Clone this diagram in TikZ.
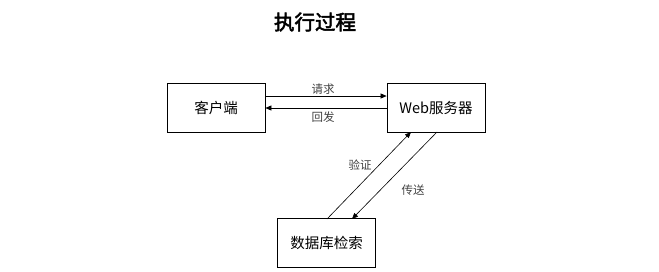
\documentclass[tikz,border=0pt]{standalone}
\usepackage{fontspec}
\newfontfamily\cjk{Noto Sans CJK SC}
\newfontfamily\cjkbold{Noto Sans CJK SC}[FakeBold=2.5]
\usetikzlibrary{arrows.meta}
\begin{document}
\begin{tikzpicture}[x=1pt,y=-1pt,
  box/.style={draw,line width=0.8pt,minimum width=98pt,minimum height=49pt,inner sep=0pt,font=\cjk\fontsize{14.5}{16}\selectfont},
  lbl/.style={font=\cjk\fontsize{11.5}{13}\selectfont,text=black!75},
  conn/.style={line width=0.6pt,-{Triangle[length=6pt,width=5pt]}}]
\useasboundingbox (0,0) rectangle (659,271);
\node[font=\cjkbold\fontsize{20.5}{22}\selectfont] (title) at (315,22) {执行过程};
\node[box] (client) at (216,107.5) {客户端};
\node[box] (web) at (436,107.5) {Web服务器};
\node[box] (db) at (326.5,243) {数据库检索};
\draw[conn] (client.east |- 0,96) -- (web.west |- 0,96);
\draw[conn] (web.west |- 0,108) -- (client.east |- 0,108);
\node[lbl] (req) at (323,89) {请求};
\node[lbl] (ret) at (323,117) {回发};
\coordinate (dbA) at (327,219);
\coordinate (webA) at (411,132);
\coordinate (webB) at (437,132);
\coordinate (dbB) at (352,219);
\draw[conn] (dbA) -- (webA);
\draw[conn] (webB) -- (dbB);
\node[lbl] (ver) at (360,165) {验证};
\node[lbl] (tra) at (413,190) {传送};
\end{tikzpicture}
\end{document}
